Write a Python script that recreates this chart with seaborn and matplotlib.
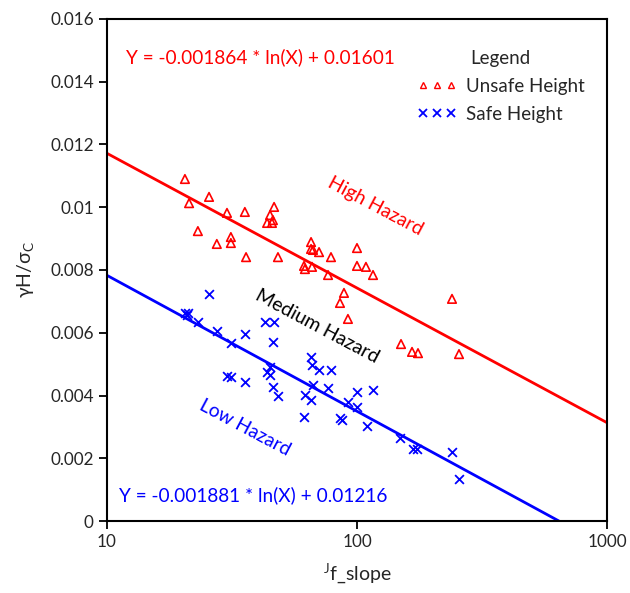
import numpy as np
import pandas as pd
import matplotlib
matplotlib.use("Agg")
import matplotlib.pyplot as plt
import seaborn as sns
from matplotlib.lines import Line2D

# unsafe height points (J_f_slope, gammaH/sigma_c)
unsafe_x = [20.5, 25.6, 21.3, 30.2, 35.6, 46.6, 44.9, 43.7, 45.7, 46.1, 23.1, 31.3,
            31.3, 27.5, 36.0, 48.3, 65.5, 65.5, 66.7, 70.5, 78.7, 61.4, 61.9, 66.1,
            76.6, 100, 100, 88.7, 85.5, 108.6, 115.9, 92.0, 239.9, 150, 166, 175.4, 255.9]
unsafe_y = [0.0109, 0.01033, 0.01013, 0.00982, 0.00985, 0.01001, 0.00975, 0.0095,
            0.0095, 0.00959, 0.00924, 0.00905, 0.00886, 0.00883, 0.00841, 0.00841,
            0.00889, 0.00867, 0.00864, 0.00857, 0.00841, 0.00813, 0.00803, 0.0081,
            0.00784, 0.0087, 0.00813, 0.00727, 0.00695, 0.0081, 0.00784, 0.00644,
            0.00708, 0.00564, 0.00539, 0.00535, 0.00532]

# safe height points
safe_x = [25.6, 20.5, 21.1, 20.9, 23.1, 27.5, 35.6, 31.3, 42.9, 46.6, 46.1, 65.5,
          66.1, 70.5, 78.7, 44.9, 43.7, 44.9, 30.2, 31.3, 35.6, 46.1, 48.3, 61.9,
          65.5, 66.7, 76.6, 61.4, 85.5, 87.1, 92.0, 100, 100, 115.9, 109.6, 148.6,
          167.5, 174, 239.9, 255.9]
safe_y = [0.00723, 0.00663, 0.00663, 0.00657, 0.00634, 0.00606, 0.00596, 0.00567,
          0.00634, 0.00634, 0.00571, 0.00523, 0.00497, 0.00481, 0.00481, 0.00491,
          0.00475, 0.00465, 0.00462, 0.00459, 0.00443, 0.00427, 0.00398, 0.00402,
          0.00386, 0.00433, 0.00424, 0.00331, 0.00328, 0.00322, 0.00379, 0.00411,
          0.00363, 0.00418, 0.00303, 0.00265, 0.00229, 0.00229, 0.0022, 0.00134]

# fitted boundaries  Y = a*ln(X) + b
high_a, high_b = -0.001864, 0.01601
low_a, low_b = -0.001881, 0.01216

sns.set_style("ticks")
plt.rcParams['font.family'] = ['Lato', 'DejaVu Sans']
plt.rcParams['mathtext.fontset'] = 'custom'
plt.rcParams['mathtext.rm'] = 'Lato'

fig = plt.figure(figsize=(6.3, 5.93), dpi=100)
ax = fig.add_axes([0.1698, 0.1214, 0.7937, 0.8466])

df_u = pd.DataFrame({'x': unsafe_x, 'y': unsafe_y})
df_s = pd.DataFrame({'x': safe_x, 'y': safe_y})

sns.scatterplot(data=df_u, x='x', y='y', marker='^', s=38, facecolor='none',
                edgecolor='red', linewidth=1.2, ax=ax, zorder=3)
sns.scatterplot(data=df_s, x='x', y='y', marker='x', s=40, color='blue',
                linewidth=1.3, ax=ax, zorder=3)

# boundary lines
xr = np.array([10, 1000])
ax.plot(xr, high_a * np.log(xr) + high_b, color='red', lw=2)
x0 = np.exp(-low_b / low_a)
xb = np.array([10, x0])
ax.plot(xb, low_a * np.log(xb) + low_b, color='blue', lw=2)

ax.set_xscale('log')
ax.set_xlim(10, 1000)
ax.set_ylim(0, 0.016)
ax.set_xticks([10, 100, 1000])
ax.set_xticklabels(['10', '100', '1000'])
ax.xaxis.set_minor_locator(matplotlib.ticker.NullLocator())
ax.set_yticks(np.arange(0, 0.0161, 0.002))
ax.set_yticklabels(['0', '0.002', '0.004', '0.006', '0.008', '0.01', '0.012', '0.014', '0.016'])
ax.tick_params(direction='out', length=6, width=1.3, labelsize=12.3, color='black')
for sp in ax.spines.values():
    sp.set_linewidth(1.5)
    sp.set_color('black')

ax.set_xlabel(r'$\mathregular{^{J}f\_slope}$', fontsize=14, labelpad=8)
ax.set_ylabel(r'$\mathregular{\gamma H/\sigma_C}$', fontsize=14, labelpad=10)

ax.text(0.306, 0.924, 'Y = -0.001864 * ln(X) + 0.01601', transform=ax.transAxes,
        color='red', fontsize=13.7, ha='center', va='center')
ax.text(0.293, 0.052, 'Y = -0.001881 * ln(X) + 0.01216', transform=ax.transAxes,
        color='blue', fontsize=13.7, ha='center', va='center')

ax.text(0.537, 0.627, 'High Hazard', transform=ax.transAxes, color='red',
        fontsize=13.8, rotation=-28, ha='center', va='center')
ax.text(0.42, 0.388, 'Medium Hazard', transform=ax.transAxes, color='black',
        fontsize=14, rotation=-28, ha='center', va='center')
ax.text(0.276, 0.185, 'Low Hazard', transform=ax.transAxes, color='blue',
        fontsize=13.8, rotation=-28, ha='center', va='center')

handles = [Line2D([], [], ls='none', marker='^', mfc='none', mec='red', ms=5, mew=1),
           Line2D([], [], ls='none', marker='x', color='blue', ms=6, mew=1.3)]
leg = ax.legend(handles, ['Unsafe Height', 'Safe Height'], title='Legend',
                numpoints=3, frameon=False, loc='upper right',
                bbox_to_anchor=(1.0, 0.984), fontsize=13.5, title_fontsize=13.5,
                handlelength=2.1, handletextpad=0.5, labelspacing=0.6,
                borderpad=0.7)

fig.savefig('out.png', dpi=100)
